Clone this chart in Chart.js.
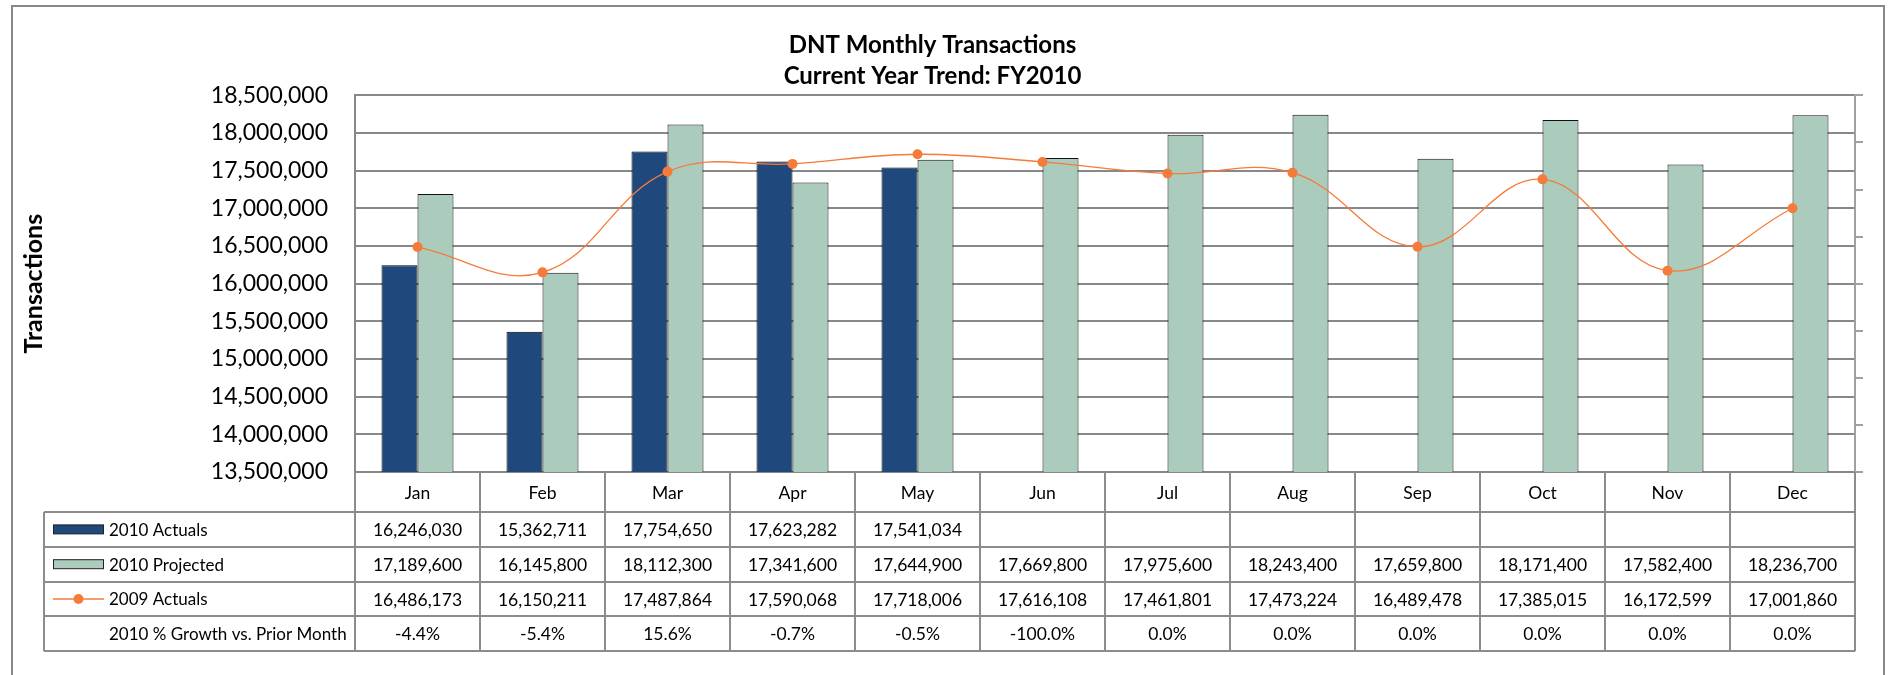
<!DOCTYPE html>
<html>
<head>
<meta charset="utf-8">
<script src="https://cdn.jsdelivr.net/npm/chart.js@4"></script>
<style>
  html, body { margin: 0; padding: 0; background: #fff; }
  #wrap { position: relative; width: 1891px; height: 675px; }
</style>
</head>
<body>
<div id="wrap"><canvas id="chart" width="1891" height="675"></canvas></div>
<script>
const months = ['Jan', 'Feb', 'Mar', 'Apr', 'May', 'Jun', 'Jul', 'Aug', 'Sep', 'Oct', 'Nov', 'Dec'];
const actuals2010 = [16246030, 15362711, 17754650, 17623282, 17541034, null, null, null, null, null, null, null];
const projected2010 = [17189600, 16145800, 18112300, 17341600, 17644900, 17669800, 17975600, 18243400, 17659800, 18171400, 17582400, 18236700];
const actuals2009 = [16486173, 16150211, 17487864, 17590068, 17718006, 17616108, 17461801, 17473224, 16489478, 17385015, 16172599, 17001860];
const growthPct = [-4.4, -5.4, 15.6, -0.7, -0.5, -100.0, 0.0, 0.0, 0.0, 0.0, 0.0, 0.0];

const FONT = 'Lato, "Liberation Sans", sans-serif';
const NAVY = '#1F497D';
const SAGE = '#ABCBBC';
const ORANGE = '#F47B3A';
const GRID = '#888888';

const fmt = v => (v === null || v === undefined) ? '' : v.toLocaleString('en-US');

// draws the data table under the plot, like Excel does
const dataTable = {
    id: 'dataTable',
    afterDraw(chart) {
        const ctx = chart.ctx;
        const area = chart.chartArea;
        const x = chart.scales.x;
        const colW = (area.right - area.left) / months.length;
        const headTop = area.bottom;
        const headBottom = headTop + 40;
        const rowH = 34.8;
        const tableLeft = 44;
        const rows = [
            { label: '2010 Actuals', kind: 'bar', color: NAVY, values: actuals2010.map(fmt) },
            { label: '2010 Projected', kind: 'bar', color: SAGE, values: projected2010.map(fmt) },
            { label: '2009 Actuals', kind: 'line', color: ORANGE, values: actuals2009.map(fmt) },
            { label: '2010 % Growth vs. Prior Month', kind: null, values: growthPct.map(v => v.toFixed(1) + '%') }
        ];
        const tableBottom = headBottom + rowH * rows.length;

        ctx.save();
        // outer chart border
        ctx.strokeStyle = GRID;
        ctx.lineWidth = 2;
        ctx.strokeRect(12, 6, 1872, 700);

        ctx.strokeStyle = '#8c8c8c';
        ctx.lineWidth = 2;
        ctx.beginPath();
        // column separators
        for (let i = 0; i <= months.length; i++) {
            const cx = Math.round(area.left + i * colW);
            ctx.moveTo(cx, headTop);
            ctx.lineTo(cx, tableBottom);
        }
        // legend column left edge
        ctx.moveTo(tableLeft, headBottom);
        ctx.lineTo(tableLeft, tableBottom);
        // row lines
        for (let r = 0; r <= rows.length; r++) {
            const ry = Math.round(headBottom + r * rowH);
            ctx.moveTo(tableLeft, ry);
            ctx.lineTo(area.right, ry);
        }
        ctx.stroke();

        ctx.fillStyle = '#000';
        ctx.font = '17.5px ' + FONT;
        ctx.textAlign = 'center';
        ctx.textBaseline = 'middle';
        months.forEach((m, i) => {
            ctx.fillText(m, x.getPixelForValue(i), (headTop + headBottom) / 2 + 1);
        });

        rows.forEach((row, r) => {
            const cy = headBottom + r * rowH + rowH / 2;
            ctx.textAlign = 'center';
            ctx.fillStyle = '#000';
            ctx.font = '17.5px ' + FONT;
            row.values.forEach((v, i) => {
                ctx.fillText(v, x.getPixelForValue(i), cy + 1);
            });
            // legend key
            if (row.kind === 'bar') {
                ctx.fillStyle = row.color;
                ctx.fillRect(53, cy - 4.5, 51, 9);
                ctx.strokeStyle = '#222';
                ctx.lineWidth = 1;
                ctx.strokeRect(53.5, cy - 4.5, 50, 9);
            } else if (row.kind === 'line') {
                ctx.strokeStyle = row.color;
                ctx.lineWidth = 1.5;
                ctx.beginPath();
                ctx.moveTo(53, cy);
                ctx.lineTo(104, cy);
                ctx.stroke();
                ctx.fillStyle = row.color;
                ctx.beginPath();
                ctx.arc(78.5, cy, 5, 0, Math.PI * 2);
                ctx.fill();
            }
            ctx.fillStyle = '#000';
            ctx.textAlign = 'left';
            ctx.font = '17px ' + FONT;
            ctx.fillText(row.label, 109, cy + 1);
        });
        ctx.restore();
    }
};

new Chart(document.getElementById('chart'), {
    type: 'bar',
    data: {
        labels: months,
        datasets: [
            {
                label: '2010 Actuals',
                data: actuals2010,
                backgroundColor: NAVY,
                borderColor: '#000',
                borderWidth: 1,
                order: 1
            },
            {
                label: '2010 Projected',
                data: projected2010,
                backgroundColor: SAGE,
                borderColor: '#111',
                borderWidth: 1,
                order: 1
            },
            {
                type: 'line',
                label: '2009 Actuals',
                data: actuals2009,
                borderColor: ORANGE,
                backgroundColor: ORANGE,
                borderWidth: 1.3,
                tension: 0.4,
                pointRadius: 5,
                pointBorderWidth: 0,
                pointBackgroundColor: ORANGE,
                fill: false,
                order: 0
            }
        ]
    },
    options: {
        responsive: false,
        animation: false,
        layout: { padding: { left: 0, right: 26, top: 0, bottom: 203 } },
        datasets: {
            bar: { barPercentage: 1, categoryPercentage: 0.576 }
        },
        plugins: {
            legend: { display: false },
            tooltip: { enabled: false },
            title: {
                display: true,
                text: ['DNT Monthly Transactions', 'Current Year Trend: FY2010'],
                color: '#000',
                font: { family: FONT, size: 24, weight: 'bold', lineHeight: 1.32 },
                padding: { top: 29, bottom: 3 }
            }
        },
        scales: {
            x: {
                display: false
            },
            y: {
                min: 13500000,
                max: 18500000,
                afterFit(scale) { scale.width = 355; },
                ticks: {
                    stepSize: 500000,
                    color: '#000',
                    padding: 27,
                    font: { family: FONT, size: 23 },
                    callback: v => v.toLocaleString('en-US')
                },
                grid: { color: GRID, lineWidth: 2, drawTicks: false },
                border: { color: GRID, width: 2 },
                title: {
                    display: true,
                    text: 'Transactions',
                    color: '#000',
                    font: { family: FONT, size: 25, weight: 'bold' },
                    padding: { top: 19, bottom: 0 }
                }
            },
            y2: {
                position: 'right',
                min: 0,
                max: 8,
                afterFit(scale) { scale.width = 10; },
                ticks: { stepSize: 1, display: false },
                grid: { drawOnChartArea: false, drawTicks: true, tickLength: 8, color: '#a0a0a0', lineWidth: 2 },
                border: { color: '#a0a0a0', width: 2 }
            }
        }
    },
    plugins: [dataTable]
});
</script>
</body>
</html>
